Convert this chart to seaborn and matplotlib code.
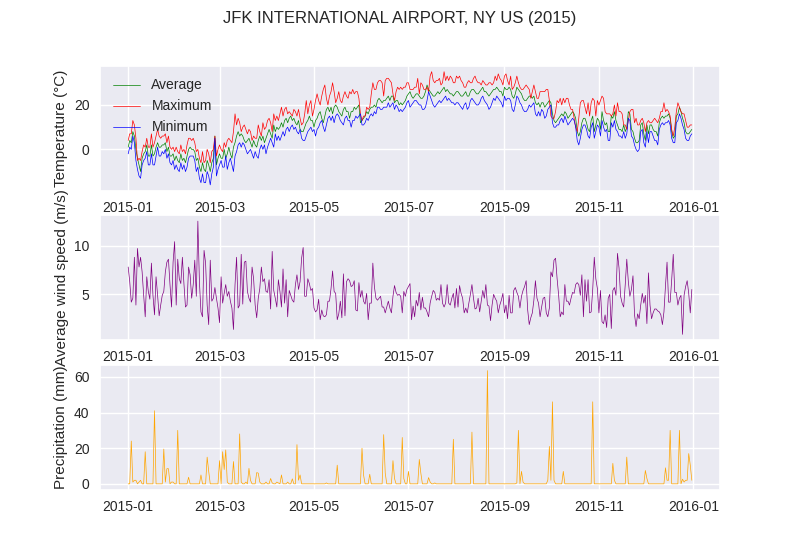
#!/usr/bin/python3

import seaborn as sns
import pandas as pd
import matplotlib.pyplot as plt

# daily values, month by month
tmin = [-2,1,0,6,3,-5,-9,-12,-13,-7,-5,-4,-1,-7,-7,-2,-7,-7,-3,1,-3,-3,-1,-2,0,-4,-2,-6,-7,-5,-9,
        -7,-9,-10,-6,-9,-7,-10,-8,-4,-3,-3,-3,-5,-10,-8,-13,-15,-11,-15,-15,-10,-12,-16,-11,-8,5,-12,-9,
        -7,-5,-8,-8,-3,-9,-6,-4,-7,-10,-3,-1,2,3,1,3,2,0,-2,-1,0,-2,-4,-1,-3,-4,0,2,0,2,-2,
        1,3,5,3,1,7,4,6,4,6,8,6,9,10,8,10,11,9,10,8,7,9,5,4,4,6,8,9,10,8,
        9,6,9,10,12,13,10,8,11,14,15,13,15,12,15,16,15,13,12,11,14,15,13,13,10,13,13,15,14,15,16,
        11,11,12,14,13,15,16,15,17,16,19,19,18,18,19,19,19,21,19,20,21,18,20,19,17,18,17,18,19,21,
        22,19,20,21,22,22,21,20,20,18,18,19,22,26,24,22,20,19,20,21,22,21,22,23,24,22,23,22,21,21,20,
        21,21,20,19,18,20,21,18,19,22,23,22,21,20,20,21,23,24,22,21,20,18,19,21,23,22,24,23,22,21,19,
        24,22,23,23,22,18,17,20,24,23,21,20,18,17,17,18,20,19,20,21,16,15,17,15,18,17,14,15,18,19,
        20,12,10,10,11,11,13,14,12,15,13,11,12,13,14,13,10,4,2,5,9,11,11,9,6,5,10,12,5,8,11,
        10,6,13,10,8,9,4,4,12,10,13,9,8,6,6,5,8,5,7,14,13,6,5,2,0,-1,0,8,9,3,
        1,8,3,8,8,6,4,4,2,9,11,12,11,12,12,13,11,5,3,3,12,13,16,14,11,9,5,4,4,6,7]

tavg = [1,4,3,8,6,0,-4,-7,-10,-4,-2,-1,2,-3,-3,2,-3,-2,1,3,1,1,2,2,3,-1,1,-3,-3,-2,-5,
        -3,-5,-6,-2,-5,-4,-6,-3,0,1,0,0,-1,-5,-4,-8,-10,-6,-9,-10,-5,-7,-10,-6,-4,6,-7,-4,
        -2,-4,-4,0,-4,-2,1,-2,-4,1,3,6,8,6,7,6,4,3,4,5,3,1,4,2,1,4,6,4,6,3,5,
        7,9,7,5,11,8,10,9,10,12,10,13,14,12,14,15,13,14,12,11,13,9,8,8,10,12,13,15,13,13,
        10,13,14,16,17,14,12,15,18,19,17,19,16,19,20,19,17,16,15,18,19,17,17,14,17,17,19,18,19,20,12,
        13,14,15,17,16,18,19,19,20,19,22,23,22,21,22,22,23,24,22,24,24,21,22,22,20,21,20,21,22,24,
        25,26,24,23,24,25,25,24,23,23,24,26,29,27,26,25,24,24,25,26,25,26,27,28,26,27,26,25,25,24,25,
        26,26,25,24,24,25,26,24,24,26,27,27,26,25,25,26,27,28,26,26,25,24,25,26,27,27,28,27,26,26,24,
        28,27,27,28,27,24,23,25,28,27,26,25,23,22,22,23,24,24,23,24,21,20,21,19,21,21,19,20,21,22,
        21,16,13,12,13,14,15,16,15,17,16,14,15,16,17,16,14,8,6,8,12,14,14,12,9,8,13,15,8,11,14,
        13,9,17,13,11,12,8,8,15,14,17,13,11,9,9,8,11,8,10,17,16,9,8,5,3,3,4,11,12,7,
        4,11,7,11,11,9,8,8,6,12,14,15,14,15,15,16,14,8,5,6,15,16,19,17,14,12,8,7,7,8,9]

tmax = [4,7,7,13,11,5,-5,-4,-5,-1,2,1,5,1,1,7,1,3,6,9,6,5,6,6,7,3,6,1,0,1,-1,
        1,-1,-2,2,-1,0,-2,2,5,5,4,5,3,-1,0,-4,-6,-1,-6,-5,0,-2,-6,-1,0,6,-3,0,
        2,0,-1,3,1,4,5,4,3,8,16,11,14,12,8,10,11,9,7,9,8,4,6,5,5,11,8,6,12,9,10,
        13,14,12,8,16,13,15,13,16,19,15,18,19,16,17,16,15,18,17,15,18,14,11,12,16,22,16,20,22,15,
        18,22,25,22,20,24,27,29,23,20,24,26,30,26,21,23,26,22,21,24,26,24,23,26,25,27,25,26,26,23,16,
        13,15,15,19,18,19,25,30,27,27,30,31,31,30,24,31,32,32,31,30,25,22,26,28,27,28,27,28,28,30,
        30,27,27,27,28,28,32,25,30,29,27,27,28,26,33,35,31,30,31,31,32,29,30,35,31,33,31,33,32,30,30,
        33,32,33,31,30,28,28,30,31,30,30,32,33,31,30,30,29,31,30,29,29,30,30,29,30,33,31,34,32,31,29,
        33,34,31,29,33,27,28,30,33,30,28,27,27,28,29,28,27,23,26,29,26,23,23,26,26,26,26,27,27,22,
        15,14,14,17,22,21,23,20,23,21,23,23,20,18,18,14,10,8,14,21,22,22,19,16,21,15,21,23,22,15,22,
        20,22,24,23,17,16,16,16,15,16,20,15,21,17,17,16,11,11,9,13,17,18,18,12,14,11,11,13,14,12,
        8,12,13,12,12,13,14,13,12,14,17,17,21,17,18,17,15,9,6,10,17,21,19,17,16,16,13,10,10,11,11]

wind = [7.8,6.3,4.2,4.6,8.8,3.9,9.7,7.8,8.8,7.3,
        4.9,2.7,6.8,5.3,4.5,8.2,4.9,2.9,6.8,4.9,
        2.8,3.9,4.9,5.3,7.3,8.3,8.6,6,3.7,8.3,
        10.4,3.9,8.6,6.6,6.1,8.8,6.1,3.7,3.9,7.8,
        7,4.6,6,8.5,4.8,12.5,6.3,3.2,2.7,9.5,
        8.2,3.9,1.9,8.5,4.3,4.6,5.7,4.6,3.6,2.1,
        6.8,4.1,5.1,6,4.8,5.3,4.3,3.6,1.4,6,
        8.8,3.6,3.9,9.1,4,8.3,8.4,5.3,4.6,4.2,
        7.8,6.6,3.9,2.6,4.6,5.6,7.8,6.3,6.6,5.3,
        5.2,6.5,3.5,9.4,5.4,4.6,3.7,6.5,5.3,3.7,
        7.6,4.1,6.5,2.7,5.4,4.9,4.4,4.2,6,7,5.5,
        6.3,8.7,9.8,4.8,4.8,6.6,6.1,5.4,5.6,3.6,
        3.2,3.4,4.5,2.4,3.4,2.8,2.7,2.9,4.3,4.3,
        5.6,7.4,5.3,5.1,2.4,3,4.3,2.6,7.1,2.8,
        6.3,6.6,6.4,5.8,5.9,6.4,3.4,3.3,6.2,4.7,
        5.4,4.3,4,5.1,2.4,4.1,4.1,8.2,5.8,4.6,
        4.4,4.6,4.8,3.7,3.7,3.1,3.7,4.3,3.6,3.1,4.8,5.9,
        5.2,4.9,5,4.8,3.1,5.3,4.8,5.5,5.8,6.1,2.4,3.8,
        2.7,4.4,3.8,5.2,3.4,
        4.7,3.6,3.6,3.2,2.7,4.1,4.8,5.4,5.2,4.4,
        4.6,4.4,6,4.1,3.7,4.1,6,4.1,3.9,4.6,
        5.1,3.6,5.6,3.7,5.9,5.1,4.6,3.1,3.6,3.1,
        4.1,5,6,4.6,3.5,3.6,4.6,3.2,4.3,5.4,4.6,
        6,3.9,3.8,2.3,3.9,5,4.6,4.3,3.1,3.9,
        4.4,5.1,3.1,3.9,2.5,4.9,3.1,3.1,5.4,5.7,5.2,
        4.8,3.6,4.8,5.4,5.8,6.4,3.4,1.9,2.6,3.1,
        4.4,6.4,4.6,4.1,2.7,3.7,4.6,4.7,3.1,2.7,
        3.6,7.3,6.8,8.5,8.7,6.6,4.9,2.7,3.2,2.9,
        6,4.3,4.3,3.9,4.6,5.2,5.1,6,6.2,6,4.9,
        7,2.7,6.5,4.3,6.5,3.1,3.2,5.5,8.8,6.6,5.6,
        3.1,5.4,2.2,2,2.9,1.6,4.6,5,1.5,5.4,
        5.7,4.9,9.2,7.7,4.8,4.1,3.7,6,8.6,6.3,4.8,5.5,
        6.9,2.9,1.7,3,2.5,3.9,5.1,4.1,4.9,2,
        7.2,3.9,2.5,3.1,3.5,3.5,3.3,3.2,2.9,1.9,3.2,5.9,
        8.3,4.2,4.2,6.5,9.1,5.2,5.2,3.9,4.6,4.9,0.9,
        4.9,5.8,6.4,5.1,3.1,5.5]

prcp = [0,0,24,1,2,2,0,1,2,0,0,18,0,0,0,0,0,41,0,0,0,0,0,19.5,1,8.5,8.5,0,1,1,0,
        0,30,0,0,0,0,0,0,3.7,0,0,0,0,0,0,0,5,0,0,0,15,7,0,0,0,0,0,0,
        13,0,18,8,19,1,0,0,0,12.5,0,0,0,28,1,0,0,1,0,8.7,2,0,0,0,6.3,6,1,0,0,0,1,
        0,0,3,0.5,0,0,1,0.5,0,5,0,0,0,1,0,0,2.8,0,0,22,2,5,0,0,0,0,0,0,0,0,
        0,0,0,0,0,0,0,0,0.5,0,0,0,0,0,0,10.5,0,0,0,0,0,0,0,0,0,0,0,0,0,0,0,
        20,5,0,0,0,5.4,0,0,0,0,0,0,0,0,27.6,6,0,0,0,0,13,3,0,0,0,0,26,3,0,0,
        7,0,0,0,0,0,0,13.7,6,0,0,0,0,3.5,1,0,0,0.5,0,0,0,0,0,0,0,0,0,0,0,25,0,
        0,0,0,0,0,0,0,0,0,0,29,0,0,0,0,0,0,0,0,0,63.5,0,0,0,0,0,0,0,0,0,0,
        0,0,0,0,0,0,0,0,0.5,30,0,7,1,0,0,0,0,0,0,0,0,0,0,0,0,0,0,0,2,21,
        2,46,2,0,0,0,0,0,7,0,0,0,0,0,0,0,0,0,0,0,0,0,0,0,0,0,0,46,0,0,0,
        0,0,0,0,0,0,0,0,0,11.5,2,0,0,0,0,0,0,0,15,0,0,0,0,0,0,0,0,0,0,0,
        7.5,3,0,0,0,0,0,0,0,0,0,0,0,9,2,2,30,0,0,0,0,0,30,0,2.6,1,2,2,17,10.5,2]

sns.set_theme(style="darkgrid", rc={'axes.labelsize': 11, 'xtick.labelsize': 10, 'ytick.labelsize': 10,
                                    'legend.fontsize': 10, 'figure.titlesize': 12,
                                    'xtick.major.pad': 1.5, 'ytick.major.pad': 1.5})
plt.rcParams['font.family'] = ['Liberation Sans', 'DejaVu Sans']

days = pd.date_range('2015-01-01', '2015-12-31')
weather = pd.DataFrame({'date': days, 'tmin': tmin, 'tavg': tavg, 'tmax': tmax, 'wind': wind, 'prcp': prcp})

fig, (ax1, ax2, ax3) = plt.subplots(3, 1, figsize=(8, 5.5))
fig.suptitle('JFK INTERNATIONAL AIRPORT, NY US (2015)')

sns.lineplot(data=weather, x='date', y='tavg', color='green', linewidth=0.5, label='Average', errorbar=None, ax=ax1)
sns.lineplot(data=weather, x='date', y='tmax', color='red', linewidth=0.5, label='Maximum', errorbar=None, ax=ax1)
sns.lineplot(data=weather, x='date', y='tmin', color='blue', linewidth=0.5, label='Minimum', errorbar=None, ax=ax1)
ax1.legend(handles=ax1.get_lines(), labels=['Average', 'Maximum', 'Minimum'], loc='upper left', frameon=False)
ax1.set(xlabel='', ylabel='Temperature (°C)')

sns.lineplot(data=weather, x='date', y='wind', color='purple', linewidth=0.5, errorbar=None, ax=ax2)
ax2.set(xlabel='', ylabel='Average wind speed (m/s)')

sns.lineplot(data=weather, x='date', y='prcp', color='orange', linewidth=0.5, errorbar=None, ax=ax3)
ax3.set(xlabel='', ylabel='Precipitation (mm)')

fig.savefig('out.png', dpi=100)
